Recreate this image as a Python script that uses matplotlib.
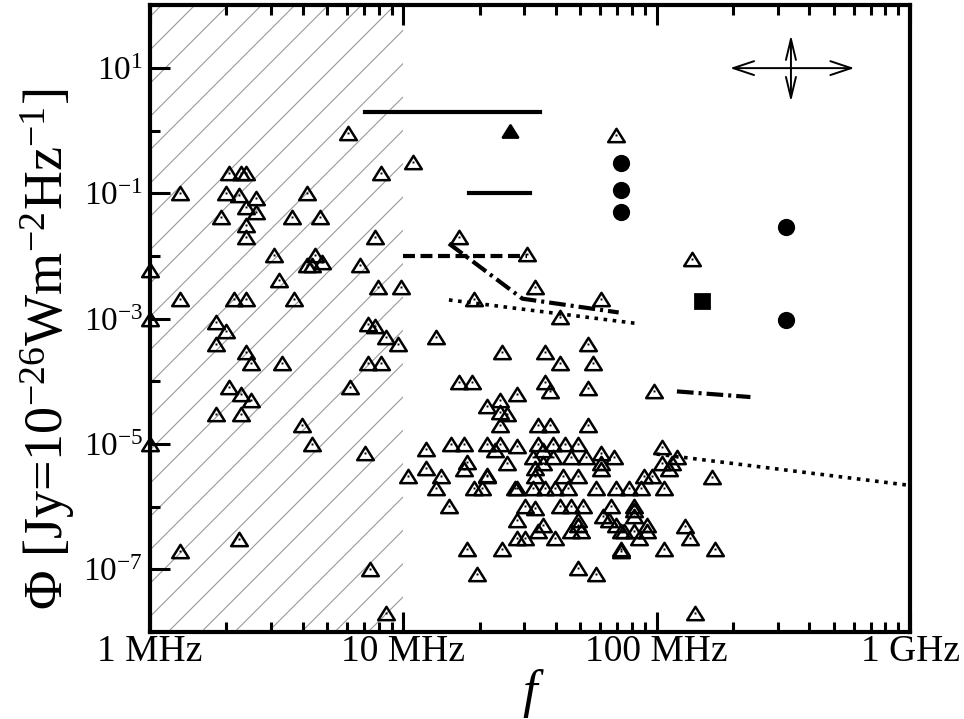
'''
Flux density of radio sources against frequency, log-log
'''
import numpy             as np
import matplotlib
matplotlib.use('Agg')
import matplotlib.pyplot as plt
import matplotlib.ticker as mticker
from matplotlib.path     import Path

# --------------------------------
# values, stored as log10 (frequency in Hz, flux in Jy)
# open triangles inside the hatched band (< 10 MHz)
low_lgf = [
    6.78, 7.04, 6.31, 6.36, 6.38, 6.91, 6.12, 6.30, 6.35, 6.42,
    6.62, 6.38, 6.42, 6.28, 6.56, 6.67, 6.38, 6.38, 6.89, 6.49,
    6.65, 6.62, 6.64, 6.68, 6.83, 6.00, 6.51, 6.12, 6.33, 6.38,
    6.57, 6.90, 6.99, 6.00, 6.26, 6.86, 6.89, 6.30, 6.26, 6.93,
    6.98, 6.38, 6.40, 6.52, 6.86, 6.91, 6.31, 6.79, 6.36, 6.40,
    6.26, 6.36, 6.60, 6.64, 6.00, 6.85, 7.02, 6.35, 6.12, 6.87,
    6.93,
]
low_lgphi = [
    -0.04, -0.50, -0.68, -0.68, -0.68, -0.68, -1.00, -1.00, -1.02, -1.08,
    -1.00, -1.22, -1.29, -1.38, -1.38, -1.38, -1.51, -1.70, -1.69, -1.99,
    -1.98, -2.15, -2.15, -2.09, -2.15, -2.22, -2.38, -2.68, -2.68, -2.68,
    -2.68, -2.50, -2.50, -3.00, -3.05, -3.08, -3.11, -3.19, -3.40, -3.29,
    -3.40, -3.53, -3.70, -3.70, -3.70, -3.70, -4.09, -4.09, -4.20, -4.30,
    -4.52, -4.52, -4.70, -5.00, -5.00, -5.14, -5.51, -6.52, -6.70, -7.00,
    -7.70,
]
# open triangles above 10 MHz
high_lgf = [
    7.84, 7.22, 7.49, 7.52, 7.28, 7.78, 7.62, 8.14, 7.13, 7.39,
    7.56, 7.73, 7.62, 7.75, 7.22, 7.27, 7.56, 7.58, 7.73, 7.99,
    7.45, 7.38, 7.33, 7.38, 7.41, 7.38, 7.53, 7.58, 7.73, 7.09,
    7.19, 7.24, 7.33, 7.38, 7.36, 7.45, 7.53, 7.59, 7.64, 7.69,
    7.55, 8.02, 7.25, 7.24, 7.41, 7.51, 7.59, 7.66, 7.72, 7.78,
    7.83, 7.78, 7.78, 7.55, 7.52, 7.09, 8.02, 8.08, 8.06, 8.05,
    7.15, 7.33, 7.33, 7.52, 7.63, 7.69, 7.95, 7.98, 8.22, 7.13,
    7.28, 7.31, 7.44, 7.45, 7.51, 7.56, 7.60, 7.65, 7.76, 7.84,
    7.89, 7.94, 8.03, 7.18, 7.48, 7.52, 7.62, 7.66, 7.71, 7.82,
    7.91, 7.91, 7.79, 7.81, 7.91, 7.45, 7.55, 7.53, 7.69, 7.69,
    7.66, 7.70, 7.84, 7.86, 7.87, 7.96, 7.96, 7.91, 7.93, 8.11,
    8.13, 7.45, 7.48, 7.60, 7.25, 7.39, 7.86, 7.86, 8.03, 8.23,
    7.69, 7.76, 7.29, 8.15,
]
high_lgphi = [
    -0.07, -1.69, -1.96, -2.50, -2.68, -2.68, -2.98, -2.04, -3.29, -3.53,
    -3.53, -3.40, -3.70, -3.70, -4.01, -4.01, -4.01, -4.15, -4.10, -4.15,
    -4.20, -4.30, -4.39, -4.49, -4.52, -4.70, -4.70, -4.70, -4.70, -5.08,
    -5.00, -5.00, -5.00, -5.00, -5.10, -5.03, -5.00, -5.00, -5.00, -5.00,
    -5.10, -5.05, -5.29, -5.40, -5.30, -5.21, -5.21, -5.21, -5.21, -5.14,
    -5.21, -5.30, -5.40, -5.30, -5.38, -5.38, -5.30, -5.21, -5.30, -5.40,
    -5.51, -5.51, -5.50, -5.51, -5.51, -5.51, -5.51, -5.51, -5.53, -5.70,
    -5.70, -5.70, -5.70, -5.70, -5.70, -5.70, -5.70, -5.70, -5.70, -5.70,
    -5.70, -5.70, -5.70, -5.99, -5.99, -6.02, -5.99, -5.99, -5.99, -5.99,
    -5.99, -6.06, -6.15, -6.22, -6.15, -6.22, -6.30, -6.39, -6.22, -6.30,
    -6.39, -6.39, -6.30, -6.39, -6.39, -6.30, -6.39, -6.39, -6.50, -6.31,
    -6.50, -6.50, -6.50, -6.50, -6.68, -6.68, -6.68, -6.71, -6.68, -6.68,
    -6.98, -7.08, -7.08, -7.70,
]

circle_lgf   = [7.86, 7.86, 7.86, 8.51, 8.51]
circle_lgphi = [-0.52, -0.94, -1.30, -1.54, -3.02]
square_lgf   = [8.18]
square_lgphi = [-2.71]
ftri_lgf     = [7.42]
ftri_lgphi   = [0.00]

solid_a_lgf    = [6.85, 7.54]
solid_a_lgphi  = [0.30, 0.30]
solid_b_lgf    = [7.26, 7.50]
solid_b_lgphi  = [-1.00, -1.00]
dashed_lgf     = [7.00, 7.49]
dashed_lgphi   = [-2.00, -2.00]
dashdot_a_lgf  = [7.18, 7.47, 7.85]
dashdot_a_lgphi= [-1.80, -2.68, -2.90]
dotted_a_lgf   = [7.18, 7.93]
dotted_a_lgphi = [-2.70, -3.08]
dashdot_b_lgf  = [8.08, 8.37]
dashdot_b_lgphi= [-4.16, -4.25]
dotted_b_lgf   = [8.00, 9.00]
dotted_b_lgphi = [-5.16, -5.66]

# cross of arrows, upper right
arrow_lgf   = [8.29, 8.53, 8.78]
arrow_lgphi = [0.46, 1.00, 1.53]

hatch_band   = [1e6, 1e7]
xtick_pos    = [1e6, 1e7, 1e8, 1e9]
xtick_labels = ['1 MHz', '10 MHz', '100 MHz', '1 GHz']
ytick_exp    = [-7, -5, -3, -1, 1]
yminor_exp   = [-8, -6, -4, -2, 0, 2]
# --------------------------------
def _style():
    plt.rcParams['font.family']        = ['Liberation Serif', 'DejaVu Serif']
    plt.rcParams['mathtext.fontset']   = 'custom'
    plt.rcParams['mathtext.rm']        = 'Liberation Serif'
    plt.rcParams['mathtext.it']        = 'Liberation Serif:italic'
    plt.rcParams['mathtext.bf']        = 'Liberation Serif:bold'
    plt.rcParams['hatch.linewidth']    = 0.4
    plt.rcParams['lines.scale_dashes'] = False
# --------------------------------
def _pow(vals):
    return 10.0 ** np.asarray(vals)
# --------------------------------
def _axes(ax):
    ax.set_xscale('log')
    ax.set_yscale('log')
    ax.set_xlim(1e6, 1e9)
    ax.set_ylim(1e-8, 1e2)

    ax.xaxis.set_major_locator(mticker.FixedLocator(xtick_pos))
    ax.xaxis.set_major_formatter(mticker.FixedFormatter(xtick_labels))
    ax.xaxis.set_minor_locator(mticker.LogLocator(base=10, subs=np.arange(2, 10), numticks=20))
    ax.xaxis.set_minor_formatter(mticker.NullFormatter())

    ax.yaxis.set_major_locator(mticker.FixedLocator(_pow(ytick_exp)))
    ax.yaxis.set_major_formatter(mticker.FixedFormatter([f'$10^{{{e}}}$' for e in ytick_exp]))
    ax.yaxis.set_minor_locator(mticker.FixedLocator(_pow(yminor_exp)))
    ax.yaxis.set_minor_formatter(mticker.NullFormatter())

    ax.tick_params(axis='x', which='both', direction='in', top=True, bottom=True, width=1.1, labelsize=13.5, pad=1)
    ax.tick_params(axis='y', which='both', direction='in', left=True, right=False, width=1.1, labelsize=12, pad=2.5)
    ax.tick_params(which='major', length=7.2)
    ax.tick_params(which='minor', length=3.6)

    for spine in ax.spines.values():
        spine.set_linewidth(1.5)
# --------------------------------
def _plot(ax):
    ax.axvspan(*hatch_band, facecolor='none', edgecolor='0.6', hatch='//', linewidth=0, zorder=0)

    ax.plot(_pow(solid_a_lgf), _pow(solid_a_lgphi), color='k', lw=1.5)
    ax.plot(_pow(solid_b_lgf), _pow(solid_b_lgphi), color='k', lw=1.5)
    ax.plot(_pow(dashed_lgf ), _pow(dashed_lgphi ), color='k', lw=1.5, dashes=(4.3, 2.0))
    ax.plot(_pow(dashdot_a_lgf), _pow(dashdot_a_lgphi), color='k', lw=1.5, dashes=(6.0, 1.8, 1.1, 1.8))
    ax.plot(_pow(dashdot_b_lgf), _pow(dashdot_b_lgphi), color='k', lw=1.5, dashes=(6.0, 1.8, 1.1, 1.8))
    ax.plot(_pow(dotted_a_lgf ), _pow(dotted_a_lgphi ), color='k', lw=1.3, dashes=(1.3, 2.0))
    ax.plot(_pow(dotted_b_lgf ), _pow(dotted_b_lgphi ), color='k', lw=1.3, dashes=(1.3, 2.0))

    tri = Path([(0, 0.8), (-1, -0.8), (1, -0.8), (0, 0.8)], closed=True)

    all_lgf   = low_lgf   + high_lgf
    all_lgphi = low_lgphi + high_lgphi
    ax.plot(_pow(all_lgf), _pow(all_lgphi), ls='none', marker=tri, ms=6.0, mew=0.9,
            mec='k', mfc='none', clip_on=False, zorder=3)
    ax.plot(_pow(all_lgf), _pow(all_lgphi), ls='none', marker='s', ms=0.7, mew=0,
            mfc='k', clip_on=False, zorder=3)

    ax.plot(_pow(circle_lgf), _pow(circle_lgphi), ls='none', marker='o', ms=5.2, color='k', zorder=4)
    ax.plot(_pow(square_lgf), _pow(square_lgphi), ls='none', marker='s', ms=4.9, color='k', zorder=4)
    ax.plot(_pow(ftri_lgf  ), _pow(ftri_lgphi  ), ls='none', marker=tri, ms=5.4, color='k', zorder=4)

    x_lo, x_mid, x_hi = _pow(arrow_lgf)
    y_lo, y_mid, y_hi = _pow(arrow_lgphi)
    props_h = dict(arrowstyle='<->,head_length=0.75,head_width=0.25', lw=0.7, color='k',
                   shrinkA=0, shrinkB=0, mutation_scale=10)
    props_v = dict(arrowstyle='<->,head_length=0.75,head_width=0.18', lw=0.7, color='k',
                   shrinkA=0, shrinkB=0, mutation_scale=10)
    ax.annotate('', xy=(x_hi, y_mid), xytext=(x_lo, y_mid), arrowprops=props_h)
    ax.annotate('', xy=(x_mid, y_hi), xytext=(x_mid, y_lo), arrowprops=props_v)
# --------------------------------
def main():
    '''
    Start here
    '''
    _style()

    fig = plt.figure(figsize=(4.82, 3.595), dpi=200)
    ax  = fig.add_axes([0.1556, 0.1210, 0.7884, 0.8714])

    _axes(ax)
    _plot(ax)

    ax.set_xlabel('f', fontsize=19, fontstyle='italic', labelpad=0)
    fig.text(0.049, 0.514, 'Φ [Jy=10$^{-26}$Wm$^{-2}$Hz$^{-1}$]', fontsize=19.5,
             rotation=90, ha='center', va='center')

    fig.savefig('out.png', dpi=200)
    plt.close(fig)
# --------------------------------
if __name__ == '__main__':
    main()
